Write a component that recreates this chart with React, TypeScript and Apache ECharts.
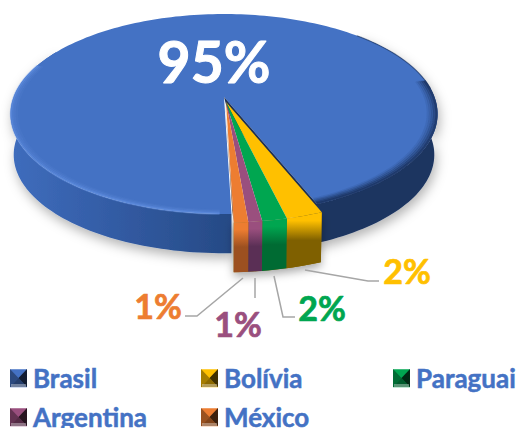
import React, { useEffect, useRef } from "react";
import * as echarts from "echarts";

const categories = ["Brasil", "Bolívia", "Paraguai", "Argentina", "México"];
// slice sizes as drawn, in percent of the pie
const shares = [94.4, 2.3, 1.55, 0.86, 0.89];
const percentLabels = ["95%", "2%", "2%", "1%", "1%"];
const topColors = ["#4472C4", "#FFC000", "#00A650", "#9A4F7E", "#ED7D31"];
const sideColors = ["#2F5597", "#7F6000", "#006B33", "#5A2F55", "#9C5020"];

const START = -181.7;
const A = 210.4, B = 97.1, P = 0.17;
const rad = (d: number) => (d * Math.PI) / 180;

type Geo = { cx: number; cy: number; k: number };
const TOP: Geo = { cx: 224, cy: 97, k: 1 };
const BOTTOM: Geo = { cx: 224, cy: 138, k: 0.985 };
const W_TOP: Geo = { cx: 226, cy: 102, k: 1.03 };
const W_BOTTOM: Geo = { cx: 226, cy: 153, k: 1.02 };

function rim(g: Geo, t: number, s = 1): number[] {
  const u = Math.sin(rad(t)), v = Math.cos(rad(t));
  const w = 1 + P * v;
  return [g.cx + (s * g.k * A * u) / w, g.cy - (s * g.k * B * v) / w];
}
function arc(g: Geo, a: number, b: number, s = 1): number[][] {
  const n = Math.max(2, Math.ceil(Math.abs(b - a) / 1.5));
  const out: number[][] = [];
  for (let i = 0; i <= n; i++) out.push(rim(g, a + ((b - a) * i) / n, s));
  return out;
}
function sidePoly(t: Geo, bt: Geo, a: number, b: number): number[][] {
  return [...arc(t, a, b), ...arc(bt, a, b).reverse()];
}

const LEADERS: Record<number, number[][]> = {
  1: [[305, 270], [368, 281], [379, 281]],
  2: [[274, 276], [283, 317], [295, 317]],
  3: [[255, 278], [255, 298]],
  4: [[243, 278], [197, 316], [185, 316]],
};
const LABEL_POS = [[214, 61], [407, 270], [322, 307], [238, 323], [158, 305]];
const LEGEND_POS = [[10, 369], [201, 369], [393, 369], [10, 408], [201, 408]];
const FONT = "Lato, 'Open Sans', sans-serif";

function sliceAngles(idx: number) {
  const total = shares.reduce((a, b) => a + b, 0);
  let acc = 0;
  for (let i = 0; i < idx; i++) acc += shares[i];
  return [START + (acc / total) * 360, START + ((acc + shares[idx]) / total) * 360];
}

function line(points: number[][], stroke: string, lineWidth: number) {
  return { type: "polyline", shape: { points }, style: { stroke, lineWidth, fill: "none" } };
}

function renderSlice(idx: number) {
  return () => {
    const [a, b] = sliceAngles(idx);
    const children: any[] = [];
    const [lx, ly] = LABEL_POS[idx];
    const color = idx === 0 ? "#FFFFFF" : topColors[idx];
    const label = {
      type: "text",
      z2: 30,
      style: {
        x: lx, y: ly, text: percentLabels[idx], align: "center", verticalAlign: "middle",
        font: `bold ${idx === 0 ? 57 : 34}px ${FONT}`, fill: color,
        stroke: color, lineWidth: idx === 0 ? 1 : 0.7,
      },
    };
    if (idx === 0) {
      const shadow = { shadowBlur: 12, shadowColor: "rgba(0,0,0,0.3)", shadowOffsetX: 2, shadowOffsetY: 5 };
      children.push({
        type: "polygon", shape: { points: sidePoly(TOP, BOTTOM, 45, b) },
        style: { fill: "#1B3461", ...shadow },
      });
      children.push({
        type: "polygon", shape: { points: sidePoly(TOP, BOTTOM, -181.7, -60) },
        style: {
          fill: new echarts.graphic.LinearGradient(0, 0, 1, 0, [
            { offset: 0, color: "#3F6DBD" }, { offset: 0.45, color: "#335CA5" }, { offset: 1, color: "#264A85" },
          ]),
          ...shadow,
        },
      });
      const r = rim(TOP, b), rb = rim(BOTTOM, b);
      children.push({
        type: "polygon", shape: { points: [[TOP.cx, TOP.cy], ...arc(TOP, a, b)] },
        style: { fill: topColors[0] },
      });
      // bevel of the top face: light on the left and front, dark on the right
      [[0.97, 0.08], [0.98, 0.16], [0.99, 0.26], [0.998, 0.42]].forEach(([s, al]) => {
        children.push(line(arc(TOP, -179, -70, s), `rgba(110,155,235,${al})`, 2.2));
      });
      [[0.955, 0.12], [0.965, 0.25], [0.975, 0.42], [0.985, 0.62], [0.995, 0.85]].forEach(([s, al]) => {
        children.push(line(arc(TOP, 80, b, s), `rgba(27,52,97,${al})`, 2.4));
      });
      children.push(line(arc(TOP, 45, 85), "rgba(27,52,97,0.55)", 1.2));
      children.push({
        type: "polygon",
        shape: { points: [[TOP.cx, TOP.cy], r, rb, [TOP.cx + 4, TOP.cy + 15]] },
        style: { fill: "#1B2F55" },
      });
    } else {
      if (idx === 1) {
        const wa = sliceAngles(1)[0], wb = sliceAngles(4)[1];
        children.push({
          type: "polygon", shape: { points: sidePoly(W_TOP, W_BOTTOM, wa, wb) },
          style: { fill: "#7F6000", shadowBlur: 10, shadowColor: "rgba(0,0,0,0.35)", shadowOffsetY: 4 },
        });
      }
      children.push({
        type: "polygon", shape: { points: sidePoly(W_TOP, W_BOTTOM, a, b) },
        style: {
          fill: new echarts.graphic.LinearGradient(0, 0, 0, 1, [
            { offset: 0, color: topColors[idx] }, { offset: 0.15, color: topColors[idx] },
            { offset: 0.5, color: sideColors[idx] }, { offset: 1, color: sideColors[idx] },
          ]),
        },
      });
      const apex = [W_TOP.cx, W_TOP.cy];
      children.push({
        type: "polygon", shape: { points: [apex, ...arc(W_TOP, a, b)] },
        style: { fill: topColors[idx] },
      });
      if (idx === 4) {
        const e = rim(W_TOP, b);
        children.push({
          type: "polygon", shape: { points: [[apex[0] - 1, apex[1] - 3], e, [e[0] - 1.5, e[1] - 12]] },
          style: { fill: "#7A3F15" },
        });
      }
      children.push(line(LEADERS[idx], "#A6A6A6", 1.5));
    }
    children.push(label);
    return { type: "group", children };
  };
}

export default function App() {
  const ref = useRef<HTMLDivElement>(null);
  useEffect(() => {
    document.body.style.margin = "0";
    const chart = echarts.init(ref.current!, undefined, { renderer: "svg" });
    const bevels: any[] = [];
    LEGEND_POS.forEach(([x, y]) => {
      const w = 17, h = 18, m = h / 2, x2 = x + w, y2 = y + h, xm = x + w / 2;
      const tri = (pts: number[][], fill: string) => bevels.push({
        type: "polygon", z: 100, silent: true, shape: { points: pts }, style: { fill },
      });
      tri([[x2, y], [x2, y2], [xm, y + m]], "rgba(0,0,0,0.75)");
      tri([[x, y], [x, y2], [xm, y + m]], "rgba(0,0,0,0.35)");
      tri([[x, y2], [x2, y2], [xm, y + m]], "rgba(0,0,0,0.45)");
      bevels.push({
        type: "rect", z: 101, silent: true, shape: { x: x + 1, y: y2 - 3, width: w - 2, height: 3 },
        style: { fill: "rgba(255,255,255,0.35)" },
      });
    });
    chart.setOption({
      animation: false,
      backgroundColor: "#FFFFFF",
      legend: categories.map((name, i) => ({
        data: [name], left: LEGEND_POS[i][0], top: LEGEND_POS[i][1] - 4, padding: 0,
        itemWidth: 17, itemHeight: 18, icon: "rect", itemGap: 0, selectedMode: false,
        textStyle: {
          color: "#4472C4", fontFamily: FONT, fontWeight: "bold", fontSize: 26, padding: [0, 0, 0, 1],
          textBorderColor: "#4472C4", textBorderWidth: 0.5,
        },
      })),
      graphic: bevels,
      series: categories.map((name, i) => ({
        type: "custom", name, coordinateSystem: "none", z: i + 1,
        itemStyle: { color: topColors[i] },
        data: [shares[i]],
        renderItem: renderSlice(i),
      })),
    });
    return () => chart.dispose();
  }, []);
  return <div ref={ref} style={{ position: "fixed", left: 0, top: 0, width: 518, height: 428 }} />;
}
